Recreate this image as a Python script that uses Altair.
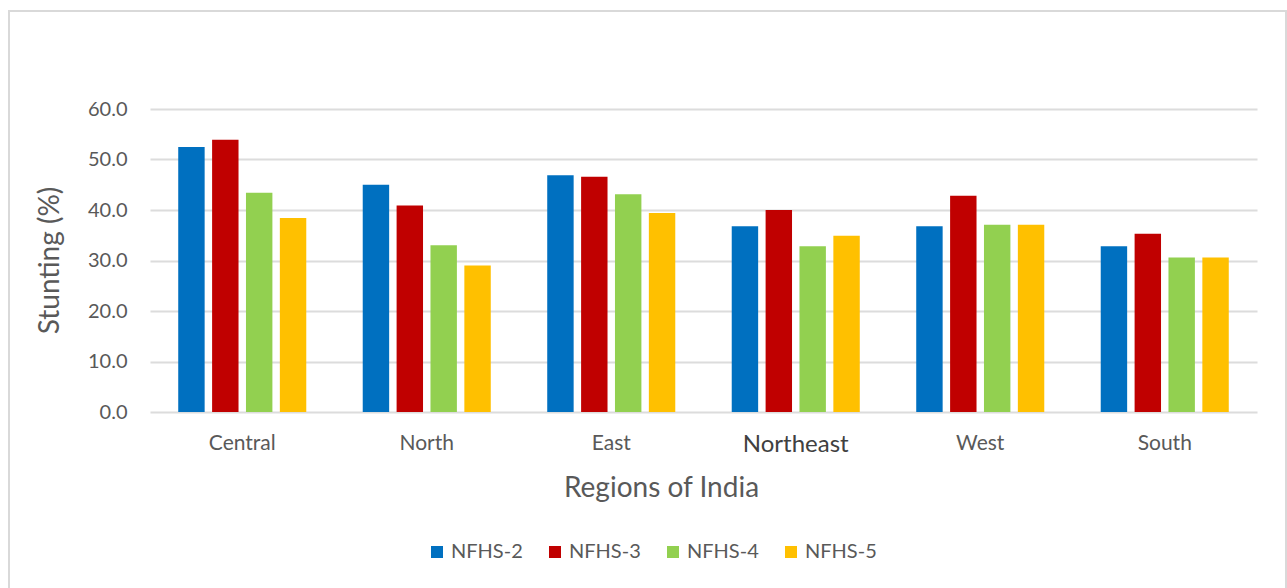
import altair as alt
import pandas as pd

# Stunting prevalence (%) by region across NFHS rounds
regions = ["Central", "North", "East", "Northeast", "West", "South"]
surveys = ["NFHS-2", "NFHS-3", "NFHS-4", "NFHS-5"]
nfhs2 = [52.5, 45.0, 46.9, 36.8, 36.8, 32.8]
nfhs3 = [53.9, 40.9, 46.6, 40.0, 42.8, 35.3]
nfhs4 = [43.4, 33.0, 43.1, 32.8, 37.1, 30.6]
nfhs5 = [38.4, 29.0, 39.4, 34.9, 37.1, 30.6]
colors = ["#0070C0", "#C00000", "#92D050", "#FFC000"]
y_ticks = [0, 10, 20, 30, 40, 50, 60]

rows = []
for survey, values in zip(surveys, [nfhs2, nfhs3, nfhs4, nfhs5]):
    for region, v in zip(regions, values):
        rows.append({"region": region, "survey": survey, "stunting": v})
df = pd.DataFrame(rows)

FONT = "Lato"
GRAY = "#595959"

bars = alt.Chart(df).mark_bar().encode(
    x=alt.X(
        "region:N",
        sort=regions,
        scale=alt.Scale(paddingInner=0.306, paddingOuter=0.153),
        axis=alt.Axis(
            title="Regions of India",
            labelAngle=0,
            labelFont=FONT,
            labelFontSize={"expr": "datum.value === 'Northeast' ? 24 : 21"},
            labelColor={"expr": "datum.value === 'Northeast' ? '#404040' : '#595959'"},
            labelPadding=20,
            ticks=False,
            domain=False,
            titleFont=FONT,
            titleFontSize=28,
            titleFontWeight="normal",
            titleColor=GRAY,
            titleX=511,
            titleY=76,
            titleAlign="center",
            titleBaseline="middle",
        ),
    ),
    xOffset=alt.XOffset(
        "survey:N",
        sort=surveys,
        scale=alt.Scale(paddingInner=0.22, paddingOuter=0),
    ),
    y=alt.Y(
        "stunting:Q",
        scale=alt.Scale(domain=[0, 60], nice=False),
        axis=alt.Axis(
            title="Stunting (%)",
            values=y_ticks,
            format=".1f",
            labelFont=FONT,
            labelFontSize=20,
            labelColor=GRAY,
            labelPadding=23,
            ticks=False,
            domain=False,
            grid=True,
            gridColor="#dcdcdc",
            gridWidth=2,
            titleFont=FONT,
            titleFontSize=28,
            titleFontWeight="normal",
            titleColor=GRAY,
            titleX=-100,
            titleY=151,
            titleAlign="center",
            titleBaseline="middle",
        ),
    ),
    color=alt.Color(
        "survey:N",
        sort=surveys,
        scale=alt.Scale(domain=surveys, range=colors),
        legend=alt.Legend(
            title=None,
            orient="none",
            direction="horizontal",
            legendX=277,
            legendY=433,
            columns=4,
            columnPadding=22,
            symbolType="square",
            symbolSize=144,
            symbolStrokeWidth=0,
            labelFont=FONT,
            labelFontSize=20,
            labelColor=GRAY,
            labelOffset=4,
        ),
    ),
)

# light outer frame around the whole figure
frame = alt.Chart(pd.DataFrame({"k": [0]})).mark_rect(
    fill=None, stroke="#d9d9d9", strokeWidth=2
).encode(
    x=alt.value(-141), x2=alt.value(1136), y=alt.value(-98), y2=alt.value(500)
)

chart = alt.layer(frame, bars).properties(
    width=1107,
    height=303,
    autosize=alt.AutoSizeParams(type="none"),
    padding={"left": 150, "top": 109, "right": 30, "bottom": 176},
    background="white",
).configure_view(stroke=None)

chart.save("out.html", embed_options={"renderer": "svg", "actions": False})
